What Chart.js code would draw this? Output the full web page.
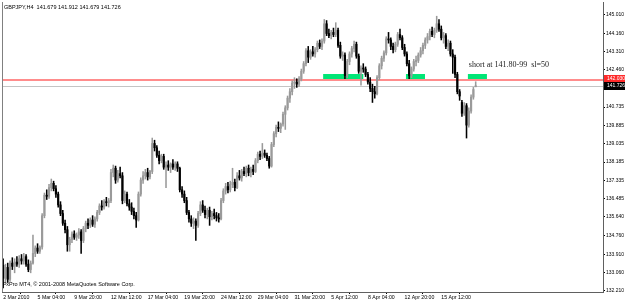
<!DOCTYPE html>
<html>
<head>
<meta charset="utf-8">
<script src="https://cdn.jsdelivr.net/npm/chart.js@4.4.0/dist/chart.umd.min.js"></script>
<style>
html, body { margin: 0; padding: 0; background: #fff; }
canvas { display: block; }
</style>
</head>
<body>
<canvas id="chart" width="625" height="302"></canvas>
<script>
// GBPJPY H4 candles
var opens = [
  133.40,132.80,133.30,132.75,133.50,133.35,133.55,133.45,133.70,133.60,
  133.80,133.45,133.20,133.50,133.95,134.20,134.05,134.25,135.70,136.65,
  136.60,137.00,137.20,136.95,136.70,136.20,135.80,135.35,135.05,134.35,
  134.60,134.85,134.70,134.80,134.95,134.55,135.10,135.35,135.25,135.50,
  135.30,135.55,135.85,136.15,136.10,136.35,136.30,136.40,137.70,137.90,
  137.35,137.65,137.55,136.40,136.70,136.25,136.10,135.90,135.70,135.50,
  136.70,137.35,137.55,137.70,137.50,137.75,139.05,138.85,138.50,138.25,
  138.45,137.95,138.05,137.95,138.10,137.95,138.10,137.90,136.90,136.70,
  136.40,135.85,135.55,135.35,135.45,135.25,135.80,136.20,135.95,135.75,
  135.95,135.65,135.80,135.70,135.60,135.55,136.40,136.85,137.05,136.90,
  137.15,137.25,137.00,137.55,137.45,137.75,137.65,137.90,137.70,137.85,
  137.75,138.25,138.55,138.45,138.60,138.50,138.35,138.00,139.00,139.50,
  139.80,139.75,139.95,140.40,140.70,141.15,141.45,141.85,141.90,141.80,
  142.05,142.40,142.75,143.35,143.05,143.30,143.20,143.40,143.70,143.55,
  143.80,144.60,144.15,144.05,144.20,144.10,144.30,143.60,143.10,143.15,
  142.20,142.85,143.20,143.45,143.65,143.10,142.40,142.55,142.50,142.25,
  141.90,141.60,141.45,141.35,142.10,142.65,143.00,143.25,143.90,143.85,
  143.55,143.40,143.65,144.10,143.95,143.50,143.20,142.75,142.20,142.50,
  142.85,142.90,143.15,143.35,143.60,143.85,144.00,144.25,144.10,144.30,
  144.60,144.35,143.95,144.05,143.55,143.70,143.20,143.05,142.25,141.45,
  140.95,140.45,140.80,139.90,140.55,141.20,141.679
];
var highs = [
  133.70,133.45,133.50,133.60,133.75,133.70,133.80,133.85,133.90,133.95,
  133.90,133.65,133.60,134.80,134.30,134.40,134.30,135.80,136.75,136.90,
  137.15,137.40,137.30,137.10,136.80,136.35,135.95,135.50,135.20,134.70,
  134.95,135.00,134.90,135.10,135.05,135.20,135.45,135.55,135.60,135.70,
  135.65,135.95,136.25,136.40,136.45,136.55,136.50,137.85,138.05,138.00,
  137.80,137.95,137.70,136.85,136.80,136.45,136.30,136.05,135.85,136.80,
  137.45,137.75,137.85,137.90,137.80,139.30,139.20,138.95,138.70,138.55,
  138.55,138.20,138.25,138.15,138.30,138.20,138.20,137.95,137.05,136.85,
  136.55,135.95,135.70,135.60,135.55,135.90,136.35,136.40,136.15,136.05,
  136.10,135.90,136.00,135.85,135.80,136.50,136.95,137.20,137.25,137.30,
  137.90,137.40,137.70,137.80,137.85,137.95,138.00,138.05,137.95,138.05,
  138.35,138.65,138.70,139.05,138.75,138.60,138.45,139.10,139.60,139.90,
  140.05,140.00,140.50,140.80,141.25,141.60,141.95,142.10,142.05,142.15,
  142.50,142.85,143.45,143.55,143.40,143.55,143.50,143.80,143.85,143.90,
  144.80,144.75,144.35,144.30,144.40,144.65,144.40,143.75,143.30,143.25,
  142.95,143.30,143.55,143.80,143.75,143.20,142.65,142.75,142.60,142.35,
  142.10,141.80,141.70,142.20,142.75,143.10,143.35,144.00,144.20,143.95,
  143.70,143.75,144.20,144.35,144.05,143.65,143.30,142.90,142.60,142.95,
  143.10,143.25,143.50,143.70,143.95,144.15,144.35,144.45,144.40,144.95,
  144.80,144.50,144.20,144.15,143.85,143.80,143.40,143.15,142.35,141.55,
  141.05,140.95,140.90,140.70,141.30,141.65,141.912
];
var lows = [
  132.35,132.55,132.60,132.65,133.20,133.05,133.35,133.30,133.45,133.45,
  133.35,133.10,133.05,133.45,133.80,133.95,133.95,134.15,135.60,136.45,
  136.50,136.85,136.85,136.55,136.10,135.70,135.25,134.90,134.05,134.05,
  134.45,134.60,134.55,134.65,133.95,134.45,134.95,135.10,135.15,135.20,
  135.15,135.45,135.75,135.95,136.00,136.15,136.10,136.30,137.50,137.20,
  137.25,137.45,136.25,136.30,136.15,135.95,135.75,135.55,135.15,135.45,
  136.60,137.20,137.40,137.35,137.40,137.65,138.70,138.40,138.10,138.15,
  137.85,137.00,137.80,137.70,137.85,137.80,137.75,136.80,136.55,136.30,
  135.75,135.40,135.20,135.10,134.55,135.15,135.70,135.85,135.60,135.55,
  135.25,135.50,135.55,135.45,135.40,135.50,136.30,136.70,136.75,136.80,
  137.00,136.85,136.95,137.35,137.30,137.55,137.50,137.55,137.50,137.60,
  137.70,138.15,138.30,138.35,138.40,138.25,137.90,137.95,138.90,139.35,
  139.60,139.55,139.85,139.70,140.60,140.95,141.30,141.60,141.65,141.70,
  141.95,142.30,142.65,142.80,142.95,143.10,143.05,143.30,143.45,143.40,
  143.70,144.05,143.95,143.90,144.00,144.00,143.50,143.00,142.90,142.05,
  142.10,142.70,143.05,143.30,143.00,142.30,141.75,142.35,142.15,141.80,
  141.45,140.95,141.15,141.30,142.00,142.50,142.85,143.15,143.70,143.40,
  143.25,143.30,143.55,143.85,143.40,143.10,142.65,142.05,142.10,142.40,
  142.65,142.80,143.05,143.20,143.45,143.70,143.85,144.00,143.95,144.20,
  144.25,143.85,143.70,143.45,143.35,143.10,142.30,142.10,141.35,141.05,
  140.30,140.35,139.30,139.80,140.45,141.10,141.679
];
var closes = [
  132.80,133.30,132.75,133.50,133.35,133.55,133.45,133.70,133.60,133.80,
  133.45,133.20,133.50,133.95,134.20,134.05,134.25,135.70,136.65,136.60,
  137.00,137.20,136.95,136.70,136.20,135.80,135.35,135.05,134.35,134.60,
  134.85,134.70,134.80,134.95,134.55,135.10,135.35,135.25,135.50,135.30,
  135.55,135.85,136.15,136.10,136.35,136.30,136.40,137.70,137.90,137.35,
  137.65,137.55,136.40,136.70,136.25,136.10,135.90,135.70,135.50,136.70,
  137.35,137.55,137.70,137.50,137.75,139.05,138.85,138.50,138.25,138.45,
  137.95,138.05,137.95,138.10,137.95,138.10,137.90,136.90,136.70,136.40,
  135.85,135.55,135.35,135.45,135.25,135.80,136.20,135.95,135.75,135.95,
  135.65,135.80,135.70,135.60,135.55,136.40,136.85,137.05,136.90,137.15,
  137.25,137.00,137.55,137.45,137.75,137.65,137.90,137.70,137.85,137.75,
  138.25,138.55,138.45,138.60,138.50,138.35,138.00,139.00,139.50,139.80,
  139.75,139.95,140.40,140.70,141.15,141.45,141.85,141.90,141.80,142.05,
  142.40,142.75,143.35,143.05,143.30,143.20,143.40,143.70,143.55,143.80,
  144.60,144.15,144.05,144.20,144.10,144.30,143.60,143.10,143.15,142.20,
  142.85,143.20,143.45,143.65,143.10,142.40,142.55,142.50,142.25,141.90,
  141.60,141.45,141.35,142.10,142.65,143.00,143.25,143.90,143.85,143.55,
  143.40,143.65,144.10,143.95,143.50,143.20,142.75,142.20,142.50,142.85,
  142.90,143.15,143.35,143.60,143.85,144.00,144.25,144.10,144.30,144.60,
  144.35,143.95,144.05,143.55,143.70,143.20,143.05,142.25,141.45,141.25,
  140.45,140.80,139.90,140.55,141.20,141.55,141.726
];

// time axis: one slot per H4 bar, empty slots on the right
var slotCount = 262;
var timeTickIdx = [0, 15, 31, 47, 63, 79, 95, 111, 127, 143, 159, 175, 191];
var timeTickText = ['2 Mar 2010', '5 Mar 04:00', '9 Mar 20:00', '12 Mar 12:00', '17 Mar 04:00',
  '19 Mar 20:00', '24 Mar 12:00', '29 Mar 04:00', '31 Mar 20:00', '5 Apr 12:00',
  '8 Apr 04:00', '12 Apr 20:00', '15 Apr 12:00'];
var priceTicks = [145.010, 144.160, 143.310, 142.460, 141.610, 140.735, 139.885, 139.035,
  138.185, 137.335, 136.485, 135.640, 134.760, 133.910, 133.060, 132.210];

var levelPrice = 142.030;   // red horizontal line
var bidPrice = 141.726;     // last close
var zoneFrom = [139.5, 175.6, 202.6];
var zoneTo = [157.0, 183.9, 210.9];
var zoneHigh = 142.27;
var zoneLow = 141.95;
var noteText = 'short at 141.80-99  sl=50';
var headerText = 'GBPJPY,H4  141.679 141.912 141.679 141.726';
var footerText = 'FxPro MT4, \u00a9 2001-2008 MetaQuotes Software Corp.';

var slots = [];
for (var i = 0; i < slotCount; i++) slots.push(i);

var bodies = opens.map(function (o, i) { return [o, closes[i]]; });
var wicks = lows.map(function (l, i) { return [l, highs[i]]; });
var barColors = opens.map(function (o, i) { return closes[i] >= o ? '#9a9a9a' : '#000000'; });

var overlay = {
  id: 'mtOverlay',
  beforeDatasetsDraw: function (chart) {
    var ctx = chart.ctx, xs = chart.scales.x, ys = chart.scales.y, a = chart.chartArea;
    ctx.save();
    ctx.fillStyle = '#00e676';
    for (var k = 0; k < zoneFrom.length; k++) {
      var x0 = xs.getPixelForValue(zoneFrom[k]);
      var x1 = xs.getPixelForValue(zoneTo[k]);
      var y0 = ys.getPixelForValue(zoneHigh);
      var y1 = ys.getPixelForValue(zoneLow);
      ctx.fillRect(x0, y0, x1 - x0, y1 - y0);
    }
    var yb = Math.round(ys.getPixelForValue(bidPrice));
    ctx.fillStyle = '#c4c4c4';
    ctx.fillRect(a.left, yb, a.right - a.left, 1);
    var yl = Math.round(ys.getPixelForValue(levelPrice));
    ctx.fillStyle = '#ff8c8c';
    ctx.fillRect(a.left, yl, a.right - a.left, 2);
    ctx.restore();
  },
  afterDraw: function (chart) {
    var ctx = chart.ctx, xs = chart.scales.x, ys = chart.scales.y, a = chart.chartArea;
    ctx.save();
    // left frame
    ctx.strokeStyle = '#808080';
    ctx.beginPath(); ctx.moveTo(a.left + 0.5, a.top); ctx.lineTo(a.left + 0.5, a.bottom); ctx.stroke();

    ctx.fillStyle = '#000';
    ctx.textBaseline = 'middle';
    ctx.textAlign = 'left';
    ctx.font = '5.5px "Liberation Sans"';
    ctx.fillText(headerText, 4, 7);
    ctx.fillText(footerText, 3, 284);

    ctx.font = '8px "Liberation Serif"';
    ctx.fillStyle = '#222';
    ctx.fillText(noteText, xs.getPixelForValue(203), ys.getPixelForValue(142.69));

    // price labels on the axis
    var boxes = [[levelPrice, '#ff2a2a'], [bidPrice, '#000000']];
    ctx.font = '5px "Liberation Sans"';
    boxes.forEach(function (b) {
      var yy = Math.round(ys.getPixelForValue(b[0]));
      ctx.fillStyle = b[1];
      ctx.fillRect(a.right + 1, yy - 4, chart.width - a.right - 1, 8);
      ctx.fillStyle = '#fff';
      ctx.fillText(b[0].toFixed(3), a.right + 4, yy);
    });
    ctx.restore();
  }
};

new Chart(document.getElementById('chart'), {
  type: 'bar',
  data: {
    labels: slots,
    datasets: [
      {
        label: 'body',
        data: bodies,
        backgroundColor: barColors,
        barThickness: 1.5,
        grouped: false,
        order: 0
      },
      {
        label: 'wick',
        data: wicks,
        backgroundColor: barColors,
        barThickness: 0.9,
        grouped: false,
        order: 1
      }
    ]
  },
  options: {
    responsive: false,
    animation: false,
    layout: { padding: { left: 2, top: 2, right: 0, bottom: 0 } },
    plugins: { legend: { display: false }, tooltip: { enabled: false } },
    scales: {
      x: {
        type: 'category',
        offset: true,
        afterBuildTicks: function (s) {
          s.ticks = timeTickIdx.map(function (v) { return { value: v }; });
        },
        afterFit: function (s) {
          s.height = 10;
          s.paddingLeft = 0;
          s.paddingRight = 0;
        },
        grid: { drawOnChartArea: false, drawTicks: true, tickLength: 2, color: '#000' },
        border: { display: true, color: '#606060' },
        ticks: {
          autoSkip: false,
          maxRotation: 0,
          align: 'start',
          padding: 0,
          color: '#000',
          font: { family: 'Liberation Sans', size: 5.2 },
          callback: function (v, i) { return timeTickText[i]; }
        }
      },
      y: {
        position: 'right',
        min: 132.16,
        max: 145.61,
        afterBuildTicks: function (s) {
          s.ticks = priceTicks.map(function (v) { return { value: v }; });
        },
        afterFit: function (s) {
          s.width = 22;
          s.paddingTop = 0;
          s.paddingBottom = 0;
        },
        grid: { drawOnChartArea: false, drawTicks: true, tickLength: 2, color: '#000' },
        border: { display: true, color: '#606060' },
        ticks: {
          padding: 1,
          color: '#000',
          font: { family: 'Liberation Sans', size: 5 },
          callback: function (v) { return Number(v).toFixed(3); }
        }
      }
    }
  },
  plugins: [overlay]
});
</script>
</body>
</html>
